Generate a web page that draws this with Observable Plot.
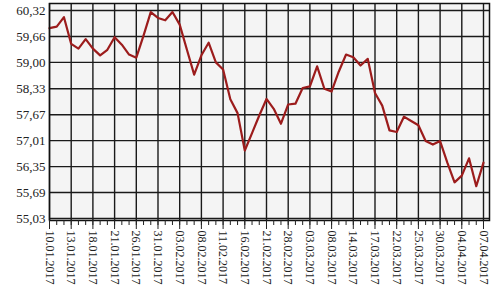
<!DOCTYPE html>
<html><head><meta charset="utf-8">
<script src="https://cdn.jsdelivr.net/npm/d3@7"></script>
<script src="https://cdn.jsdelivr.net/npm/@observablehq/plot@0.6"></script>
<style>body{margin:0;background:#fff}</style>
</head><body><div id="chart"></div>
<script>
const dateLabels = ["10.01.2017","13.01.2017","18.01.2017","21.01.2017","26.01.2017","31.01.2017","03.02.2017","08.02.2017","11.02.2017","16.02.2017","21.02.2017","28.02.2017","03.03.2017","08.03.2017","14.03.2017","17.03.2017","22.03.2017","25.03.2017","30.03.2017","04.04.2017","07.04.2017"];
const values = [
  59.87, 59.91, 60.15, 59.47, 59.35, 59.59, 59.35, 59.18, 59.32, 59.64,
  59.45, 59.20, 59.12, 59.68, 60.28, 60.13, 60.07, 60.28, 59.96, 59.32,
  58.69, 59.18, 59.50, 59.00, 58.82, 58.06, 57.71, 56.76, 57.20, 57.65,
  58.07, 57.82, 57.44, 57.93, 57.95, 58.35, 58.39, 58.90, 58.33, 58.26,
  58.77, 59.20, 59.13, 58.92, 59.09, 58.22, 57.90, 57.27, 57.23, 57.62,
  57.51, 57.40, 57.00, 56.91, 57.00, 56.45, 55.95, 56.12, 56.56, 55.85,
  56.45
];
const yTicks = [55.03, 55.69, 56.35, 57.01, 57.67, 58.33, 59.00, 59.66, 60.32];

const data = values.map((v, i) => ({i, v}));
const allIdx = values.map((v, i) => i);
const majorIdx = dateLabels.map((d, k) => k * 3);

const chart = Plot.plot({
  width: 493, height: 300,
  marginTop: 3, marginBottom: 80, marginLeft: 49, marginRight: 4,
  style: {fontFamily: "'Liberation Serif', 'Times New Roman', serif", fontSize: "13px", background: "#fff", color: "#222"},
  x: {domain: [0, 60.83], axis: null, label: null},
  y: {domain: [54.979, 60.498], axis: null, label: null},
  marks: [
    Plot.frame({fill: "#f4f4f4"}),
    Plot.gridX(majorIdx, {stroke: "#1a1a1a", strokeOpacity: 1, strokeWidth: 1.4}),
    Plot.gridY(yTicks, {stroke: "#1a1a1a", strokeOpacity: 1, strokeWidth: 1.4}),
    Plot.line(data, {x: "i", y: "v", stroke: "#9c1c1c", strokeWidth: 2.2}),
    Plot.frame({stroke: "#111", strokeWidth: 1.5}),
    Plot.axisY(yTicks, {tickSize: 0, tickPadding: 4, label: null, fontSize: 13,
      tickFormat: d => d.toFixed(2).replace(".", ",")}),
    Plot.axisX(allIdx, {tickSize: 5, label: null, tickFormat: () => ""}),
    Plot.axisX(majorIdx, {tickSize: 9, tickPadding: 1, tickRotate: 90, label: null, fontSize: 12,
      tickFormat: i => dateLabels[i / 3]})
  ]
});
document.getElementById("chart").append(chart);
</script>
</body></html>
